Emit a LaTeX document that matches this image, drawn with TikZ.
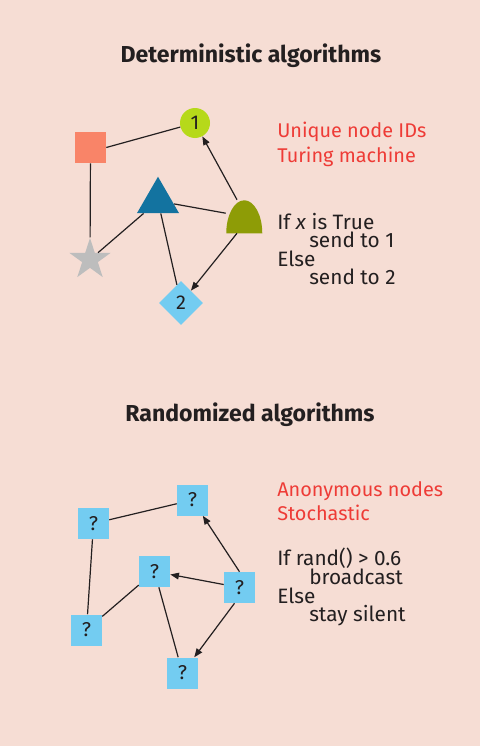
\documentclass[tikz,border=0pt]{standalone}
\usepackage{fontspec}
\setmainfont{Fira Sans}
\usetikzlibrary{shapes.geometric,arrows.meta,calc}
\definecolor{bg}{HTML}{F6DDD4}
\definecolor{ink}{HTML}{231F20}
\definecolor{redc}{HTML}{EE3B36}
\definecolor{salmon}{HTML}{F98468}
\definecolor{limec}{HTML}{B6D91A}
\definecolor{tblue}{HTML}{1373A0}
\definecolor{olivec}{HTML}{8E9C06}
\definecolor{starg}{HTML}{BDBDBD}
\definecolor{qblue}{HTML}{73CCF1}
\begin{document}
\begin{tikzpicture}[x=0.75pt,y=-0.75pt,
  edge/.style={draw=ink,line width=0.9pt},
  arr/.style={edge,-{Triangle[length=6.5pt,width=5pt]}},
  qbox/.style={rectangle,fill=qblue,minimum size=23.25pt,inner sep=0pt,text=ink,font=\fontsize{15}{18}\selectfont},
  numfont/.style={text=ink,font=\fontsize{15}{18}\selectfont},
  redtext/.style={anchor=base west,inner sep=0pt,text=redc,font=\fontsize{14.9}{18}\selectfont},
  codetext/.style={anchor=base west,inner sep=0pt,text=ink,font=\fontsize{15.6}{18}\selectfont},
  titletext/.style={anchor=base,inner sep=0pt,text=ink,font=\fontsize{17.3}{20}\bfseries}
]
\fill[bg] (0,0) rectangle (480,746);
\useasboundingbox (0,0) rectangle (480,746);

% titles
\node[titletext] (t1) at (251,62.3) {Deterministic algorithms};
\node[titletext] (t2) at (250,421.7) {Randomized algorithms};

% top graph
\node[rectangle,fill=salmon,minimum size=23.25pt,inner sep=0pt] (sq) at (90.5,147.5) {};
\node[circle,fill=limec,minimum size=22.5pt,inner sep=0pt,numfont] (c1) at (195,123) {1};
\node[regular polygon,regular polygon sides=3,fill=tblue,minimum size=36.4pt,inner sep=0pt] (tri) at (158,201) {};
\node[star,star points=5,star point ratio=2.618,fill=starg,minimum size=32.4pt,inner sep=0pt] (st) at (90,259.6) {};
\node[diamond,aspect=1,fill=qblue,minimum size=33pt,inner sep=0pt,numfont] (d2) at (181,303) {2};
\node[rectangle,minimum width=27pt,minimum height=24.75pt,inner sep=0pt] (dome) at (244,216.5) {};
\fill[olivec] (dome.south east) arc[start angle=0,end angle=180,x radius=13.5pt,y radius=24.75pt] -- cycle;

\draw[edge] (sq.east) -- (c1);
\draw[edge] (sq) -- (st);
\draw[edge] (tri) -- (st);
\draw[edge] (tri) -- (dome);
\draw[edge] (tri) -- (d2);
\draw[arr] ($(dome.north)+(-7,0)$) -- (c1);
\draw[arr] ($(dome.south)+(-7,0)$) -- (d2);

% top text
\node[redtext] (r1) at (277,137) {Unique node IDs};
\node[redtext] (r2) at (277,162) {Turing machine};
\node[codetext] (a1) at (277,229) {If \textit{x} is True};
\node[codetext] (a2) at (309,247.5) {send to 1};
\node[codetext] (a3) at (277,266) {Else};
\node[codetext] (a4) at (309,284.5) {send to 2};

% bottom graph
\node[qbox] (q1) at (192.5,500) {?};
\node[qbox] (q2) at (93.5,523.5) {?};
\node[qbox] (q3) at (154.5,571.5) {?};
\node[qbox] (q4) at (239.5,587.5) {?};
\node[qbox] (q5) at (86.5,630) {?};
\node[qbox] (q6) at (182.5,673) {?};

\draw[edge] (q2) -- (q1);
\draw[edge] (q2) -- (q5);
\draw[edge] (q3) -- (q5);
\draw[edge] (q3) -- (q6);
\draw[arr] (q4.north) -- (q1);
\draw[arr] (q4) -- (q3);
\draw[arr] ($(q4.south)+(-5,0)$) -- (q6);

% bottom text
\node[redtext] (r3) at (277,496) {Anonymous nodes};
\node[redtext] (r4) at (277,520.7) {Stochastic};
\node[codetext] (b1) at (277,565.7) {If rand() > 0.6};
\node[codetext] (b2) at (309,584.3) {broadcast};
\node[codetext] (b3) at (277,603) {Else};
\node[codetext] (b4) at (309,621.7) {stay silent};
\end{tikzpicture}
\end{document}
